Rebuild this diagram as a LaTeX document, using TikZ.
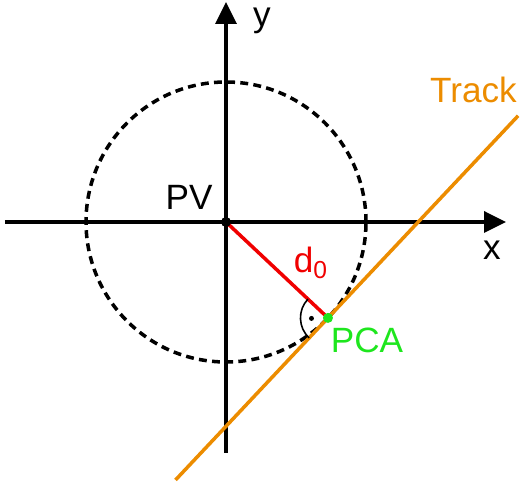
\documentclass[tikz,border=0pt]{standalone}
\usepackage{fontspec}
\setmainfont{Liberation Sans}
\usetikzlibrary{arrows.meta,calc}

\definecolor{trackorange}{RGB}{236,140,0}
\definecolor{dred}{RGB}{240,0,0}
\definecolor{pcagreen}{RGB}{30,230,30}

\tikzset{
  axis/.style={line width=2pt, -{Triangle[length=0.44cm, width=0.42cm]}},
  lbl/.style={font=\fontsize{20}{24}\selectfont, inner sep=0pt}
}

\begin{document}
\begin{tikzpicture}
  \useasboundingbox (-4.52,-5.24) rectangle (6.02,4.44);

  % Punkte
  \coordinate (pv) at (0,0);
  \coordinate (pca) at (-43.25:2.8);
  \coordinate (xl) at (-4.42,0);
  \coordinate (xr) at (5.6,0);
  \coordinate (yb) at (0,-4.62);
  \coordinate (yt) at (0,4.4);
  \coordinate (tl) at ($(pca)+(226.75:4.45)$);
  \coordinate (tr) at ($(pca)+(46.75:5.55)$);

  % Kreis
  \draw[line width=2pt, dash pattern=on 4.5pt off 3pt] (pv) circle[radius=2.8];

  % Achsen
  \draw[axis] (xl) -- (xr);
  \draw[axis] (yb) -- (yt);

  % Spur
  \draw[trackorange, line width=2pt] (tl) -- (tr);

  % d0
  \draw[dred, line width=2pt] (pv) -- (pca);

  % rechter Winkel
  \draw[line width=0.9pt] ($(pca)+(136.75:0.55)$) arc[start angle=136.75, end angle=226.75, radius=0.55];
  \fill ($(pca)+(181.75:0.33)$) circle[radius=0.05];

  \fill (pv) circle[radius=0.1];
  \fill[pcagreen] (pca) circle[radius=0.1];

  % Beschriftung
  \node[lbl] (pvlabel) at (-0.74,0.5) {PV};
  \node[lbl] (ylabel) at (0.72,4.02) {y};
  \node[lbl] (xlabel) at (5.32,-0.56) {x};
  \node[lbl, trackorange] (tracklabel) at (4.95,2.65) {Track};
  \node[lbl, dred] (dlabel) at (1.7,-0.82) {d\textsubscript{0}};
  \node[lbl, pcagreen] (pcalabel) at (2.82,-2.36) {PCA};
\end{tikzpicture}
\end{document}
